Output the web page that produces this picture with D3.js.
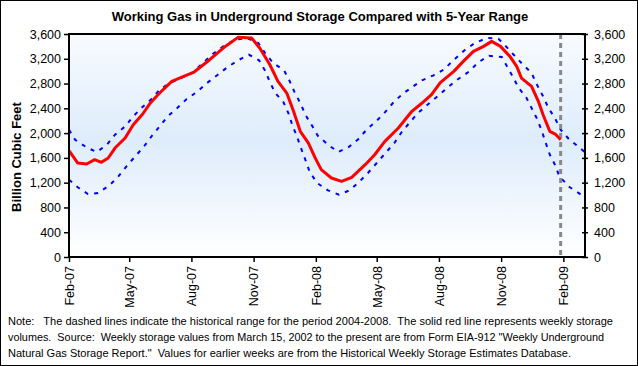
<!DOCTYPE html>
<html>
<head>
<meta charset="utf-8">
<script src="https://cdn.jsdelivr.net/npm/d3@7"></script>
<style>
  html, body { margin: 0; padding: 0; background: #fff; }
  svg text { font-family: Arial, "Liberation Sans", sans-serif; }
</style>
</head>
<body>
<div class="chart"></div>
<script>
// weekly working gas in storage (Bcf)
const storage = [
  ["2007-02-01", 1716], ["2007-02-14", 1517], ["2007-02-27", 1501], ["2007-03-11", 1571],
  ["2007-03-21", 1528], ["2007-03-31", 1598], ["2007-04-10", 1759], ["2007-04-25", 1921],
  ["2007-05-07", 2136], ["2007-05-21", 2308], ["2007-05-31", 2469], ["2007-06-15", 2647],
  ["2007-07-03", 2835], ["2007-07-17", 2900], ["2007-08-05", 2986], ["2007-08-28", 3185],
  ["2007-09-17", 3373], ["2007-10-09", 3546], ["2007-10-29", 3535], ["2007-11-10", 3373],
  ["2007-11-25", 3104], ["2007-12-07", 2835], ["2007-12-20", 2647], ["2007-12-30", 2352],
  ["2008-01-09", 2029], ["2008-01-21", 1840], ["2008-01-31", 1600], ["2008-02-09", 1410],
  ["2008-02-24", 1275], ["2008-03-10", 1222], ["2008-03-25", 1286], ["2008-04-14", 1490],
  ["2008-04-28", 1651], ["2008-05-13", 1867], ["2008-06-02", 2082], ["2008-06-22", 2352],
  ["2008-07-07", 2486], ["2008-07-21", 2620], ["2008-08-03", 2815], ["2008-08-23", 2997],
  ["2008-09-06", 3158], ["2008-09-21", 3320], ["2008-10-06", 3400], ["2008-10-18", 3481],
  ["2008-10-31", 3400], ["2008-11-14", 3239], ["2008-11-24", 3078], ["2008-12-01", 2889],
  ["2008-12-16", 2755], ["2008-12-26", 2513], ["2009-01-02", 2297], ["2009-01-12", 2029],
  ["2009-01-20", 1985], ["2009-01-28", 1893]
];

// 5-year range, upper edge
const rangeHigh = [
  ["2007-02-01", 2055], ["2007-02-10", 1893], ["2007-02-27", 1770], ["2007-03-14", 1695],
  ["2007-03-29", 1813], ["2007-04-10", 1974], ["2007-04-25", 2109], ["2007-05-07", 2271],
  ["2007-05-19", 2405], ["2007-06-03", 2550], ["2007-06-15", 2701], ["2007-06-30", 2808],
  ["2007-07-17", 2889], ["2007-08-03", 2981], ["2007-08-31", 3265], ["2007-09-17", 3400],
  ["2007-10-04", 3507], ["2007-10-22", 3535], ["2007-11-08", 3454], ["2007-11-18", 3292],
  ["2007-11-30", 3131], ["2007-12-16", 3013], ["2007-12-24", 2846], ["2007-12-31", 2674],
  ["2008-01-09", 2486], ["2008-01-17", 2287], ["2008-01-27", 2109], ["2008-02-04", 1956],
  ["2008-02-19", 1813], ["2008-03-05", 1695], ["2008-03-20", 1770], ["2008-04-04", 1905],
  ["2008-04-16", 2055], ["2008-05-01", 2200], ["2008-05-13", 2335], ["2008-05-25", 2486],
  ["2008-06-08", 2631], ["2008-06-22", 2739], ["2008-07-07", 2852], ["2008-07-24", 2933],
  ["2008-08-08", 3023], ["2008-08-25", 3201], ["2008-09-07", 3330], ["2008-09-23", 3454],
  ["2008-10-11", 3535], ["2008-10-28", 3524], ["2008-11-09", 3389], ["2008-12-01", 3131],
  ["2008-12-16", 2970], ["2008-12-24", 2781], ["2009-01-02", 2594], ["2009-01-10", 2405],
  ["2009-01-20", 2232], ["2009-01-28", 2055], ["2009-02-10", 1893], ["2009-02-26", 1759],
  ["2009-03-05", 1690]
];

// 5-year range, lower edge
const rangeLow = [
  ["2007-02-01", 1248], ["2007-02-14", 1125], ["2007-03-01", 1017], ["2007-03-16", 1033],
  ["2007-04-02", 1157], ["2007-04-15", 1302], ["2007-04-27", 1464], ["2007-05-10", 1625],
  ["2007-05-23", 1786], ["2007-06-03", 1948], ["2007-06-15", 2109], ["2007-06-27", 2271],
  ["2007-07-11", 2405], ["2007-07-25", 2550], ["2007-08-09", 2663], ["2007-08-24", 2808],
  ["2007-09-08", 2933], ["2007-09-23", 3062], ["2007-10-09", 3175], ["2007-10-25", 3265],
  ["2007-11-09", 3175], ["2007-11-18", 3007], ["2007-11-25", 2825], ["2007-12-03", 2647],
  ["2007-12-15", 2502], ["2007-12-23", 2308], ["2007-12-28", 2136], ["2008-01-04", 1948],
  ["2008-01-10", 1759], ["2008-01-17", 1554], ["2008-01-23", 1372], ["2008-02-03", 1194],
  ["2008-02-19", 1076], ["2008-03-06", 1006], ["2008-03-22", 1076], ["2008-04-06", 1222],
  ["2008-04-18", 1356], ["2008-05-01", 1517], ["2008-05-14", 1679], ["2008-05-27", 1840],
  ["2008-06-07", 2018], ["2008-06-19", 2174], ["2008-07-01", 2324], ["2008-07-15", 2458],
  ["2008-07-30", 2594], ["2008-08-13", 2728], ["2008-08-28", 2862], ["2008-09-15", 2997],
  ["2008-09-28", 3142], ["2008-10-14", 3249], ["2008-11-02", 3228], ["2008-11-18", 2916],
  ["2008-11-27", 2728], ["2008-12-08", 2578], ["2008-12-16", 2405], ["2008-12-24", 2232],
  ["2008-12-31", 2038], ["2009-01-06", 1840], ["2009-01-12", 1651], ["2009-01-20", 1480],
  ["2009-01-26", 1302], ["2009-02-10", 1130], ["2009-02-26", 1017], ["2009-03-05", 1000]
];

const yTicks = [0, 400, 800, 1200, 1600, 2000, 2400, 2800, 3200, 3600];
const xStart = "2007-02-01", xEnd = "2009-03-05";
const currentWeek = "2009-01-28";

const title = "Working Gas in Underground Storage Compared with 5-Year Range";
const yTitle = "Billion Cubic Feet";
const noteLines = [
  "Note:   The dashed lines indicate the historical range for the period 2004-2008.  The solid red line represents weekly storage",
  "volumes.  Source:  Weekly storage values from March 15, 2002 to the present are from Form EIA-912 \"Weekly Underground",
  "Natural Gas Storage Report.\"  Values for earlier weeks are from the Historical Weekly Storage Estimates Database."
];

const W = 638, H = 366;
const margin = { top: 34, right: 53, bottom: 109, left: 69 };
const iw = W - margin.left - margin.right,
      ih = H - margin.top - margin.bottom;

const parse = d3.timeParse("%Y-%m-%d");
const toPts = arr => arr.map(d => ({ date: parse(d[0]), value: d[1] }));

const svg = d3.select(".chart").append("svg")
    .attr("width", W)
    .attr("height", H)
    .attr("viewBox", `0 0 ${W} ${H}`);

svg.append("rect")
    .attr("x", 0.5).attr("y", 0.5)
    .attr("width", W - 1).attr("height", H - 1)
    .attr("fill", "#fff").attr("stroke", "#000");

let defs = svg.append("defs");
let grad = defs.append("linearGradient").attr("id", "bg")
    .attr("x1", 0).attr("y1", 0).attr("x2", 0).attr("y2", 1);
grad.append("stop").attr("offset", "0%").attr("stop-color", "#f8fbff");
grad.append("stop").attr("offset", "48%").attr("stop-color", "#deecfb");
grad.append("stop").attr("offset", "100%").attr("stop-color", "#ffffff");

const x = d3.scaleTime().domain([parse(xStart), parse(xEnd)]).range([0, iw]);
const y = d3.scaleLinear().domain([0, 3600]).range([ih, 0]);

const g = svg.append("g").attr("transform", `translate(${margin.left},${margin.top})`);

g.append("rect")
    .attr("width", iw).attr("height", ih)
    .attr("fill", "url(#bg)");

const line = d3.line().x(d => x(d.date)).y(d => y(d.value));

// range lines
[rangeHigh, rangeLow].forEach(r => {
    g.append("path")
        .datum(toPts(r))
        .attr("d", line)
        .attr("fill", "none")
        .attr("stroke", "#0000ff")
        .attr("stroke-width", 2)
        .attr("stroke-dasharray", "4,6");
});

// current week marker
g.append("line")
    .attr("x1", x(parse(currentWeek))).attr("x2", x(parse(currentWeek)))
    .attr("y1", 0).attr("y2", ih)
    .attr("stroke", "#888")
    .attr("stroke-width", 3)
    .attr("stroke-dasharray", "5,4");

g.append("path")
    .datum(toPts(storage))
    .attr("d", line)
    .attr("fill", "none")
    .attr("stroke", "#ff0000")
    .attr("stroke-width", 3)
    .attr("stroke-linejoin", "round");

// plot frame
g.append("rect")
    .attr("width", iw).attr("height", ih)
    .attr("fill", "none").attr("stroke", "#000").attr("stroke-width", 2);

// axes
const fmt = d3.format(",");
const yLeft = g.append("g")
    .call(d3.axisLeft(y).tickValues(yTicks).tickFormat(fmt).tickSize(5).tickPadding(3));
const yRight = g.append("g").attr("transform", `translate(${iw},0)`)
    .call(d3.axisRight(y).tickValues(yTicks).tickFormat(fmt).tickSize(3).tickPadding(6));
yRight.selectAll(".tick line").attr("x1", -3);

const xTicks = d3.timeMonth.range(parse(xStart), parse(xEnd), 3);
const xAxis = g.append("g").attr("transform", `translate(0,${ih})`)
    .call(d3.axisBottom(x).tickValues(xTicks).tickFormat(d3.timeFormat("%b-%y")).tickSize(5));
xAxis.selectAll("text")
    .attr("transform", "rotate(-90)")
    .attr("text-anchor", "end")
    .attr("x", -9).attr("y", 0).attr("dy", "0.35em");

[yLeft, yRight, xAxis].forEach(a => {
    a.select(".domain").remove();
    a.selectAll(".tick line").attr("stroke", "#000").attr("stroke-width", 1.5);
    a.selectAll("text").attr("font-size", 12.5).attr("fill", "#000")
        .attr("font-family", "Arial, 'Liberation Sans', sans-serif");
});

// titles
svg.append("text")
    .attr("x", 320).attr("y", 21)
    .attr("text-anchor", "middle")
    .attr("font-size", 13).attr("font-weight", "bold")
    .text(title);

svg.append("text")
    .attr("transform", "translate(21,157) rotate(-90)")
    .attr("text-anchor", "middle")
    .attr("font-size", 13).attr("font-weight", "bold")
    .text(yTitle);

const noteW = [605, 596, 563];
svg.append("g").selectAll("text")
    .data(noteLines)
    .enter().append("text")
    .attr("x", 8)
    .attr("y", (d, i) => 325 + i * 16)
    .attr("font-size", 10.5)
    .attr("textLength", (d, i) => noteW[i])
    .attr("lengthAdjust", "spacingAndGlyphs")
    .attr("xml:space", "preserve")
    .style("white-space", "pre")
    .text(d => d);
</script>
</body>
</html>
